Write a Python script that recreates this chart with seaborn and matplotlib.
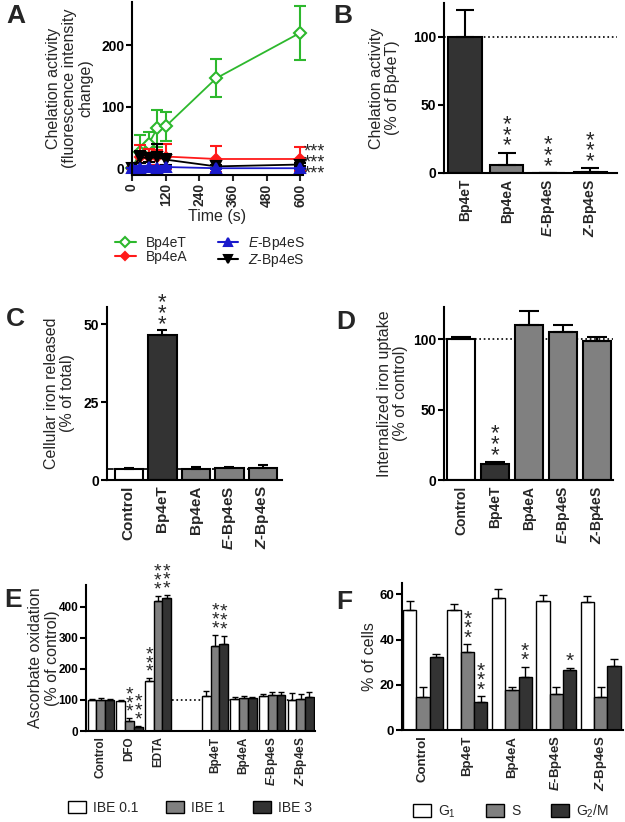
import numpy as np
import pandas as pd
import matplotlib
matplotlib.use("Agg")
import matplotlib.pyplot as plt
import seaborn as sns
from matplotlib.lines import Line2D
from matplotlib.patches import Patch

# ---- A: chelation kinetics (fluorescence change vs time) ----
a_time = [0, 30, 60, 90, 120, 300, 600]
a_bp4et = [0, 27, 40, 65, 68, 146, 220]
a_bp4et_err = [0, 27, 19, 30, 24, 31, 44]
a_bp4ea = [0, 19, 18, 18, 19, 15, 15]
a_bp4ea_err = [0, 19, 14, 12, 21, 21, 20]
a_ebp4es = [0, 1, 2, 1, 2, 0, 0]
a_ebp4es_err = [0, 2, 2, 2, 2, 1, 1]
a_zbp4es = [0, 18, 16, 18, 14, 3, 6]
a_zbp4es_err = [0, 10, 6, 22, 9, 2, 2]

# ---- B: chelation activity (% of Bp4eT) ----
b_labels = ["Bp4eT", "Bp4eA", "E-Bp4eS", "Z-Bp4eS"]
b_values = [100, 6, 0, 1]
b_errors = [20, 9, 0, 2.5]
b_stars = ["", "***", "***", "***"]

# ---- C: cellular iron released ----
c_labels = ["Control", "Bp4eT", "Bp4eA", "E-Bp4eS", "Z-Bp4eS"]
c_values = [3.5, 46.5, 3.6, 3.8, 4.0]
c_errors = [0.4, 1.5, 0.5, 0.5, 0.8]
c_stars = ["", "***", "", "", ""]

# ---- D: internalized iron uptake ----
d_labels = ["Control", "Bp4eT", "Bp4eA", "E-Bp4eS", "Z-Bp4eS"]
d_values = [100, 11.5, 110, 105, 99]
d_errors = [2, 1.5, 10, 5, 2.5]
d_stars = ["", "***", "", "", ""]

# ---- E: ascorbate oxidation ----
e_groups = ["Control", "DFO", "EDTA", "Bp4eT", "Bp4eA", "E-Bp4eS", "Z-Bp4eS"]
e_ibe = ["IBE 0.1", "IBE 1", "IBE 3"]
e_ibe01 = [100, 96, 160, 113, 103, 112, 100]
e_ibe01_err = [3, 3, 10, 15, 8, 8, 22]
e_ibe1 = [100, 33, 418, 275, 106, 115, 103]
e_ibe1_err = [5, 8, 18, 35, 7, 12, 17]
e_ibe3 = [100, 14, 428, 279, 105, 117, 110]
e_ibe3_err = [3, 3, 10, 28, 5, 10, 15]
e_stars01 = ["", "", "***", "", "", "", ""]
e_stars1 = ["", "***", "***", "***", "", "", ""]
e_stars3 = ["", "***", "***", "***", "", "", ""]

# ---- F: cell cycle ----
f_groups = ["Control", "Bp4eT", "Bp4eA", "E-Bp4eS", "Z-Bp4eS"]
f_phases = ["G1", "S", "G2/M"]
f_g1 = [53, 53, 58.5, 57, 56.5]
f_g1_err = [4, 2.5, 4, 2.5, 2.8]
f_s = [14.5, 34.5, 17.5, 16, 14.5]
f_s_err = [4.5, 3.5, 1.5, 3.2, 4.3]
f_g2m = [32.5, 12.5, 23.5, 26.5, 28.5]
f_g2m_err = [1.3, 2.5, 4.5, 1.0, 3.0]
f_stars_g1 = ["", "", "", "", ""]
f_stars_s = ["", "***", "", "", ""]
f_stars_g2m = ["", "***", "**", "*", ""]

WHITE, GRAY, DARK = "#ffffff", "#808080", "#333333"

sns.set_theme(style="ticks")
plt.rcParams["font.family"] = ["Liberation Sans", "DejaVu Sans"]
plt.rcParams["mathtext.fontset"] = "custom"
plt.rcParams["mathtext.rm"] = "Liberation Sans"
plt.rcParams["mathtext.it"] = "Liberation Sans:italic"
plt.rcParams["mathtext.bf"] = "Liberation Sans:bold"
plt.rcParams["mathtext.bfit"] = "Liberation Sans:italic:bold"
plt.rcParams["axes.linewidth"] = 1.5
plt.rcParams["xtick.major.width"] = 1.5
plt.rcParams["ytick.major.width"] = 1.5
plt.rcParams["xtick.major.size"] = 4
plt.rcParams["ytick.major.size"] = 4

STAR_SPACING = 0.36


def pretty(label, bold=True):
    # italic E/Z prefix
    if label.startswith(("E-", "Z-")):
        cmd = r"\mathbfit" if bold else r"\it"
        return "$" + cmd + "{" + label[0] + "}$" + label[1:]
    return label


def stack(s):
    # significance stars drawn as a vertical column
    return "\n".join(s)


def style_axis(ax, yticks, ylabel, label_x, fs_tick, fs_label=11.5):
    sns.despine(ax=ax)
    ax.set_yticks(yticks)
    ax.tick_params(axis="y", labelsize=fs_tick, colors="black", pad=1.5)
    plt.setp(ax.get_yticklabels(), fontweight="bold")
    ax.set_ylabel(ylabel, fontsize=fs_label, linespacing=1.1)
    ax.yaxis.set_label_coords(label_x, 0.5)
    for s in ax.spines.values():
        s.set_color("black")


def bar_panel(ax, labels, values, errors, stars, colors, width, capsize, fs_tick, star_pad):
    sns.barplot(x=labels, y=values, hue=labels, palette=colors, legend=False,
                width=width, edgecolor="black", linewidth=1.5, errorbar=None, ax=ax)
    xs = [p.get_x() + p.get_width() / 2 for p in ax.patches]
    ax.errorbar(xs, values, yerr=[np.zeros(len(values)), errors], fmt="none",
                ecolor="black", elinewidth=1.5, capsize=capsize, capthick=1.5, zorder=3)
    for x, v, e, s in zip(xs, values, errors, stars):
        if s:
            ax.text(x, v + e + star_pad, stack(s), ha="center", va="bottom",
                    fontsize=16, linespacing=STAR_SPACING, clip_on=False)
    ax.set_xticks(range(len(labels)), [pretty(l) for l in labels], rotation=90,
                  fontweight="bold", fontsize=fs_tick)
    ax.tick_params(axis="x", length=0, pad=4)
    ax.set_xlabel("")


def grouped_panel(ax, df, order, hue_order, colors, width, capsize, fs_tick, star_pad, star_fs):
    sns.barplot(data=df, x="group", y="value", hue="hue", order=order, hue_order=hue_order,
                palette=colors, width=width, edgecolor="black", linewidth=1.0,
                errorbar=None, legend=False, ax=ax)
    containers = list(ax.containers)
    for j, cont in enumerate(containers):
        for bar in cont:
            cx = bar.get_x() + bar.get_width() / 2
            grp = order[int(round(cx))]
            row = df[(df["group"] == grp) & (df["hue"] == hue_order[j])].iloc[0]
            ax.errorbar([cx], [row["value"]], yerr=[[0], [row["err"]]], fmt="none",
                        ecolor="black", elinewidth=1.0, capsize=capsize, capthick=1.0, zorder=3)
            if row["star"]:
                ax.text(cx, row["value"] + row["err"] + star_pad, stack(row["star"]),
                        ha="center", va="bottom", fontsize=star_fs,
                        linespacing=STAR_SPACING, clip_on=False)
    ticks = [i for i, g in enumerate(order) if g]
    ax.set_xticks(ticks, [pretty(order[i]) for i in ticks], rotation=90,
                  fontweight="bold", fontsize=fs_tick)
    ax.tick_params(axis="x", length=0, pad=4)
    ax.set_xlabel("")


fig = plt.figure(figsize=(6.25, 8.22), dpi=100)
W, H = 625, 822


def add_axes(x0, y0, x1, y1):
    return fig.add_axes([x0 / W, 1 - y1 / H, (x1 - x0) / W, (y1 - y0) / H])


# ---------------- A ----------------
axA = add_axes(132, 2, 303, 175)
series_a = [
    ("Bp4eT", a_bp4et, a_bp4et_err, "#2db82d", "D", "white", 6.5),
    ("Bp4eA", a_bp4ea, a_bp4ea_err, "#ff1a1a", "D", "#ff1a1a", 5),
    ("Z-Bp4eS", a_zbp4es, a_zbp4es_err, "black", "v", "black", 7),
    ("E-Bp4eS", a_ebp4es, a_ebp4es_err, "#1a1acc", "^", "#1a1acc", 7),
]
for name, vals, errs, col, mk, fc, ms in series_a:
    axA.errorbar(a_time, vals, yerr=errs, fmt="none", ecolor=col,
                 elinewidth=1.5, capsize=4, capthick=1.5, clip_on=False)
    sns.lineplot(x=a_time, y=vals, color=col, marker=mk, markerfacecolor=fc,
                 markeredgecolor=col, markeredgewidth=1.5, markersize=ms, lw=1.3,
                 ax=axA, clip_on=False)
axA.set_xlim(0, 610)
axA.set_ylim(-11, 270)
a_xticks = [0, 120, 240, 360, 480, 600]
axA.set_xticks(a_xticks)
axA.tick_params(axis="x", labelsize=10, labelrotation=90, pad=2)
style_axis(axA, [0, 100, 200], "Chelation activity\n(fluorescence intensity\nchange)", -0.228, 10)
axA.set_xlabel("Time (s)", fontsize=11.5, labelpad=2)
axA.text(612, 8, "***\n***\n***", fontsize=13, va="center", ha="left",
         linespacing=0.55, clip_on=False)

legA = [Line2D([0], [0], color=c, marker=m, markerfacecolor=fc, markeredgecolor=c,
               markeredgewidth=1.5, markersize=ms * 0.8, lw=1.5)
        for _, _, _, c, m, fc, ms in series_a]
legA_labels = ["Bp4eT", "Bp4eA", pretty("Z-Bp4eS", bold=False), pretty("E-Bp4eS", bold=False)]
order_idx = [0, 1, 3, 2]
fig.legend([legA[i] for i in order_idx], [legA_labels[i] for i in order_idx], ncol=2,
           loc="center", bbox_to_anchor=(210 / W, 1 - 252 / H), frameon=False,
           fontsize=10, handlelength=1.5, handletextpad=0.7, columnspacing=2.2,
           labelspacing=0.0)

# ---------------- B ----------------
axB = add_axes(444, 3, 617, 173)
bar_panel(axB, b_labels, b_values, b_errors, b_stars, [DARK, GRAY, GRAY, GRAY],
          0.8, 6.5, 10, -3)
axB.axhline(100, ls=":", color="black", lw=1.2, zorder=0)
axB.set_xlim(-0.5, 3.64)
axB.set_ylim(0, 125)
style_axis(axB, [0, 50, 100], "Chelation activity\n(% of Bp4eT)", -0.254, 10)

# ---------------- C ----------------
axC = add_axes(107, 307, 282, 480)
bar_panel(axC, c_labels, c_values, c_errors, c_stars, [WHITE, DARK, GRAY, GRAY, GRAY],
          0.85, 3.5, 11, -1.5)
axC.axhline(3.5, ls=(0, (4, 3)), color="black", lw=1.2, zorder=0)
axC.set_xlim(-0.65, 4.57)
axC.set_ylim(0, 55.5)
style_axis(axC, [0, 25, 50], "Cellular iron released\n(% of total)", -0.183, 10)

# ---------------- D ----------------
axD = add_axes(444, 307, 613, 480)
bar_panel(axD, d_labels, d_values, d_errors, d_stars, [WHITE, DARK, GRAY, GRAY, GRAY],
          0.82, 7, 10, -3)
axD.axhline(100, ls=":", color="black", lw=1.2, zorder=0)
axD.set_xlim(-0.5, 4.47)
axD.set_ylim(0, 123)
style_axis(axD, [0, 50, 100], "Internalized iron uptake\n(% of control)", -0.213, 10)

# ---------------- E ----------------
axE = add_axes(86, 585, 315, 731)
e_order = e_groups[:3] + [""] + e_groups[3:]
df_e = pd.DataFrame({
    "group": e_groups * 3,
    "hue": np.repeat(e_ibe, len(e_groups)),
    "value": e_ibe01 + e_ibe1 + e_ibe3,
    "err": e_ibe01_err + e_ibe1_err + e_ibe3_err,
    "star": e_stars01 + e_stars1 + e_stars3,
})
grouped_panel(axE, df_e, e_order, e_ibe, [WHITE, GRAY, DARK], 0.92, 2, 8.5, -8, 14)
axE.hlines(100, 2.5, 7.5, linestyles=":", color="black", lw=1.2, zorder=0)
axE.set_xlim(-0.52, 7.5)
axE.set_ylim(0, 470)
style_axis(axE, [0, 100, 200, 300, 400], "Ascorbate oxidation\n(% of control)", -0.115, 8.5)
fig.legend([Patch(facecolor=c, edgecolor="black", lw=1) for c in [WHITE, GRAY, DARK]], e_ibe,
           ncol=3, loc="center", bbox_to_anchor=(190 / W, 1 - 808 / H), frameon=False,
           fontsize=10, handlelength=1.3, handleheight=1.0, handletextpad=0.5,
           columnspacing=2.0)

# ---------------- F ----------------
axF = add_axes(402, 583, 623, 730)
df_f = pd.DataFrame({
    "group": f_groups * 3,
    "hue": np.repeat(f_phases, len(f_groups)),
    "value": f_g1 + f_s + f_g2m,
    "err": f_g1_err + f_s_err + f_g2m_err,
    "star": f_stars_g1 + f_stars_s + f_stars_g2m,
})
grouped_panel(axF, df_f, f_groups, f_phases, [WHITE, GRAY, DARK], 0.9, 3, 9.5, -1.5, 15)
axF.set_xlim(-0.47, 4.5)
axF.set_ylim(0, 65)
style_axis(axF, [0, 20, 40, 60], "% of cells", -0.113, 9.5)
fig.legend([Patch(facecolor=c, edgecolor="black", lw=1) for c in [WHITE, GRAY, DARK]],
           ["G$_1$", "S", "G$_2$/M"],
           ncol=3, loc="center", bbox_to_anchor=(511 / W, 1 - 811 / H), frameon=False,
           fontsize=10, handlelength=1.3, handleheight=1.0, handletextpad=0.5,
           columnspacing=2.2, borderpad=0.2)

# panel letters
for letter, (px, py) in zip("ABCDEF", [(6, 4), (333, 4), (6, 307), (336, 310),
                                       (4, 588), (336, 590)]):
    fig.text(px / W, 1 - py / H, letter, fontsize=19, fontweight="bold", va="top", ha="left")

# bold tick labels on A's time axis
plt.setp(axA.get_xticklabels(), fontweight="bold")

fig.savefig("out.png", dpi=100)
